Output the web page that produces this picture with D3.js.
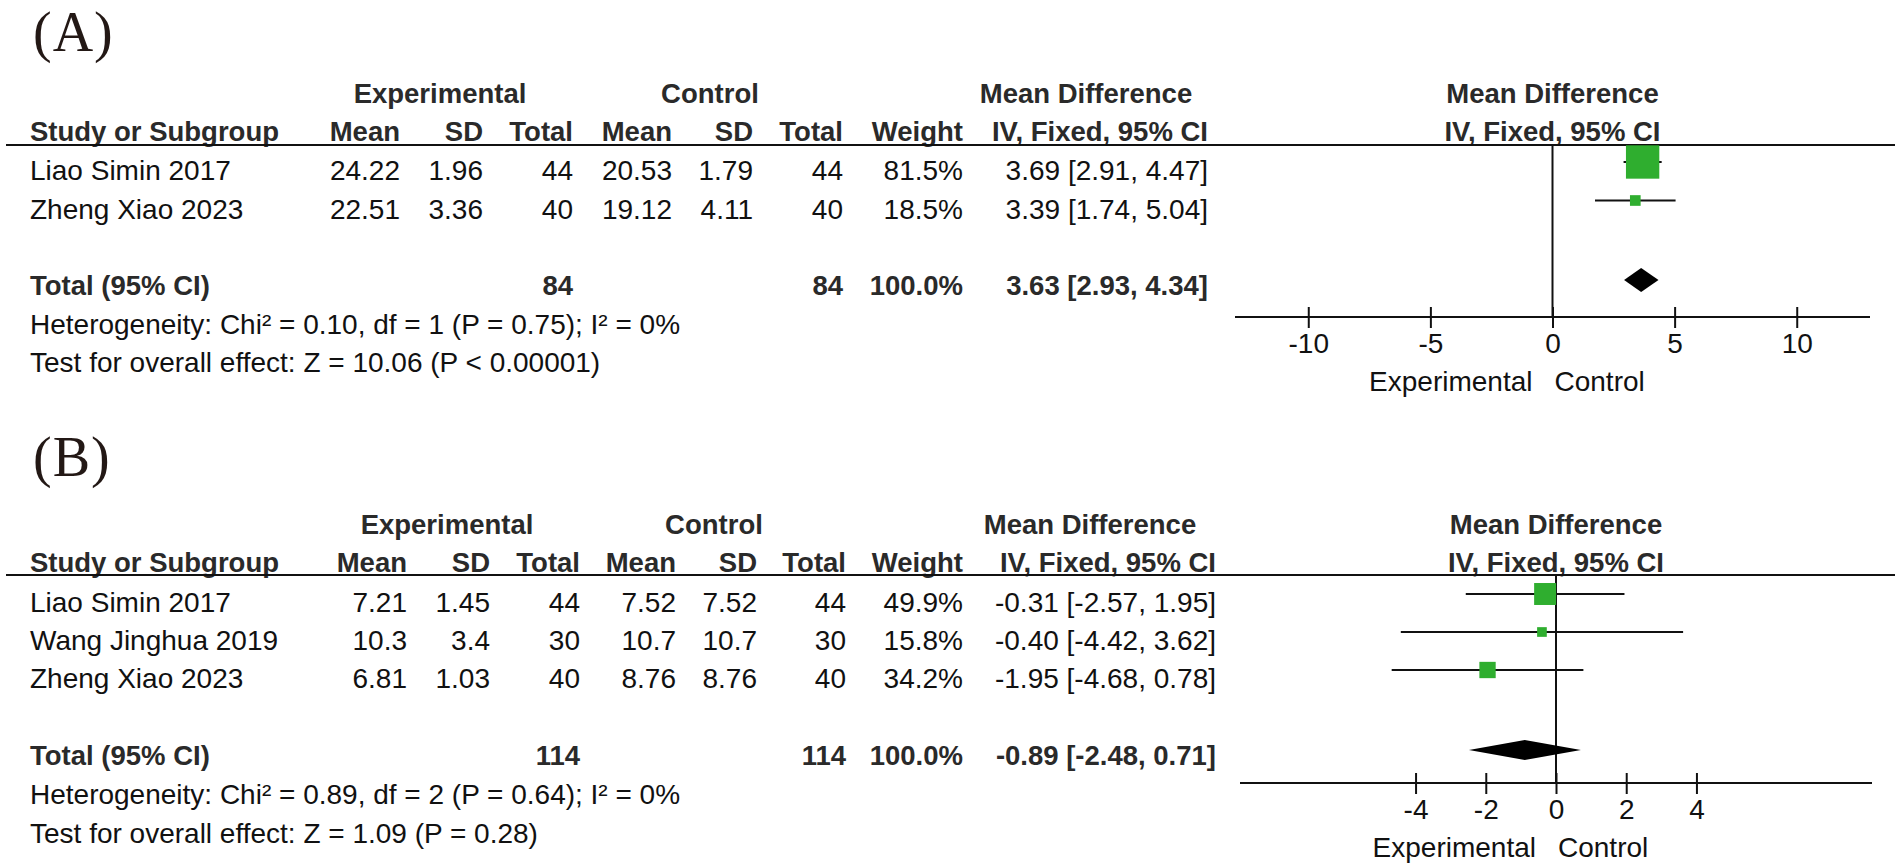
<!DOCTYPE html>
<html>
<head>
<meta charset="utf-8">
<script src="https://cdnjs.cloudflare.com/ajax/libs/d3/7.8.5/d3.min.js"></script>
<style>
  body { margin: 0; background: #fff; }
  svg { display: block; }
  text { font-family: "Liberation Sans", Arial, sans-serif; }
</style>
</head>
<body>
<svg id="chart" width="1902" height="866"></svg>
<script>
// ---- panel A data
let studiesA = ["Liao Simin 2017", "Zheng Xiao 2023"]
let expMeanA = [24.22, 22.51]
let expSdA = [1.96, 3.36]
let expNA = [44, 40]
let ctrlMeanA = [20.53, 19.12]
let ctrlSdA = [1.79, 4.11]
let ctrlNA = [44, 40]
let weightA = [81.5, 18.5]
let mdA = [3.69, 3.39]
let loA = [2.91, 1.74]
let hiA = [4.47, 5.04]
let totalA = [84, 84, 100.0, 3.63, 2.93, 4.34]   // exp n, ctrl n, weight, md, lo, hi
let hetA = "Heterogeneity: Chi² = 0.10, df = 1 (P = 0.75); I² = 0%"
let testA = "Test for overall effect: Z = 10.06 (P < 0.00001)"
let ticksA = [-10, -5, 0, 5, 10]

// ---- panel B data
let studiesB = ["Liao Simin 2017", "Wang Jinghua 2019", "Zheng Xiao 2023"]
let expMeanB = [7.21, 10.3, 6.81]
let expSdB = [1.45, 3.4, 1.03]
let expNB = [44, 30, 40]
let ctrlMeanB = [7.52, 10.7, 8.76]
let ctrlSdB = [7.52, 10.7, 8.76]
let ctrlNB = [44, 30, 40]
let weightB = [49.9, 15.8, 34.2]
let mdB = [-0.31, -0.40, -1.95]
let loB = [-2.57, -4.42, -4.68]
let hiB = [1.95, 3.62, 0.78]
let totalB = [114, 114, 100.0, -0.89, -2.48, 0.71]
let hetB = "Heterogeneity: Chi² = 0.89, df = 2 (P = 0.64); I² = 0%"
let testB = "Test for overall effect: Z = 1.09 (P = 0.28)"
let ticksB = [-4, -2, 0, 2, 4]

let headers = ["Mean", "SD", "Total", "Mean", "SD", "Total", "Weight", "IV, Fixed, 95% CI"]

let svg = d3.select('#chart')
let squareSize = d3.scaleLinear().domain([0, 100]).range([4, 40])
let ci = (m, l, h) => m.toFixed(2) + " [" + l.toFixed(2) + ", " + h.toFixed(2) + "]"

let drawPanel = (p, d) => {
    let g = svg.append('g')

    let txt = (x, y, s, anchor, bold) => g.append('text')
        .attr('x', x).attr('y', y).attr('dy', '0.36em')
        .attr('text-anchor', anchor)
        .style('font-size', bold ? '27.5px' : '28px')
        .style('font-weight', bold ? 'bold' : 'normal')
        .attr('fill', bold ? '#2a2a2a' : '#111')
        .text(s)

    // panel letter
    g.append('text')
        .attr('x', 33).attr('y', p.labelY)
        .style('font-family', '"Liberation Serif", "Times New Roman", serif')
        .style('font-size', '56px')
        .style('letter-spacing', '1px')
        .attr('fill', '#231815')
        .text(p.label)

    let x = d3.scaleLinear().domain(p.domain).range(p.range)
    let y = d3.scaleLinear().domain([0, 1]).range([p.row0, p.row0 + p.rowStep])
    let plotC = (p.range[0] + p.range[1]) / 2

    // group headers
    txt(p.grp[0], p.h1, 'Experimental', 'middle', true)
    txt(p.grp[1], p.h1, 'Control', 'middle', true)
    txt(p.grp[2], p.h1, 'Mean Difference', 'middle', true)
    txt(plotC, p.h1, 'Mean Difference', 'middle', true)

    // column headers
    txt(30, p.h2, 'Study or Subgroup', 'start', true)
    headers.forEach((h, i) => txt(p.cols[i], p.h2, h, 'end', true))
    txt(plotC, p.h2, 'IV, Fixed, 95% CI', 'middle', true)

    g.append('line')
        .attr('x1', 6).attr('x2', 1895)
        .attr('y1', p.lineY).attr('y2', p.lineY)
        .attr('stroke', '#111').attr('stroke-width', 2)

    // study rows
    d.studies.forEach((s, i) => {
        let yy = y(i)
        txt(30, yy, s, 'start', false)
        let vals = [d.expMean[i], d.expSd[i], d.expN[i], d.ctrlMean[i], d.ctrlSd[i], d.ctrlN[i],
                    d.weight[i].toFixed(1) + '%', ci(d.md[i], d.lo[i], d.hi[i])]
        vals.forEach((v, j) => txt(p.cols[j], yy, String(v), 'end', false))
    })

    // total row
    let t = d.total
    txt(30, p.totalY, 'Total (95% CI)', 'start', true)
    txt(p.cols[2], p.totalY, String(t[0]), 'end', true)
    txt(p.cols[5], p.totalY, String(t[1]), 'end', true)
    txt(p.cols[6], p.totalY, t[2].toFixed(1) + '%', 'end', true)
    txt(p.cols[7], p.totalY, ci(t[3], t[4], t[5]), 'end', true)

    txt(30, p.hetY, d.het, 'start', false)
    txt(30, p.testY, d.test, 'start', false)

    // zero line
    g.append('line')
        .attr('x1', x(0)).attr('x2', x(0))
        .attr('y1', p.lineY).attr('y2', p.axisY)
        .attr('stroke', '#111').attr('stroke-width', 2)

    // confidence intervals + squares
    g.selectAll('.ci').data(d.studies).enter().append('line')
        .attr('class', 'ci')
        .attr('x1', (s, i) => x(d.lo[i])).attr('x2', (s, i) => x(d.hi[i]))
        .attr('y1', (s, i) => y(i) - 8).attr('y2', (s, i) => y(i) - 8)
        .attr('stroke', '#111').attr('stroke-width', 2)

    g.selectAll('.sq').data(d.studies).enter().append('rect')
        .attr('class', 'sq')
        .attr('x', (s, i) => x(d.md[i]) - squareSize(d.weight[i]) / 2)
        .attr('y', (s, i) => y(i) - 8 - squareSize(d.weight[i]) / 2)
        .attr('width', (s, i) => squareSize(d.weight[i]))
        .attr('height', (s, i) => squareSize(d.weight[i]))
        .attr('fill', '#2fae2f')

    // pooled diamond
    let dy = p.totalY - 5
    g.append('path')
        .attr('d', 'M' + x(t[4]) + ',' + dy + 'L' + x(t[3]) + ',' + (dy - p.dh) +
                   'L' + x(t[5]) + ',' + dy + 'L' + x(t[3]) + ',' + (dy + p.dh) + 'Z')
        .attr('fill', '#000')

    // axis
    g.append('line')
        .attr('x1', p.range[0]).attr('x2', p.range[1])
        .attr('y1', p.axisY).attr('y2', p.axisY)
        .attr('stroke', '#111').attr('stroke-width', 2)

    let axis = d3.axisBottom(x)
        .tickValues(d.ticks)
        .tickSizeInner(21).tickSizeOuter(0).tickPadding(5)
        .tickFormat(v => String(v))
    let ax = g.append('g')
        .attr('transform', 'translate(0,' + (p.axisY - 10) + ')')
        .call(axis)
    ax.select('.domain').remove()
    ax.selectAll('.tick line').attr('stroke', '#111').attr('stroke-width', 2)
    ax.selectAll('.tick text').style('font-size', '28px').attr('fill', '#111')

    txt(x(0) - 20, p.ecY, 'Experimental', 'end', false)
    txt(x(0) + 2, p.ecY, 'Control', 'start', false)
}

drawPanel({
    label: '(A)', labelY: 51,
    h1: 93, h2: 131, lineY: 145, row0: 170, rowStep: 38.5,
    totalY: 285, hetY: 324, testY: 362, axisY: 317, ecY: 381,
    cols: [400, 483, 573, 672, 753, 843, 963, 1208],
    grp: [440, 710, 1086],
    domain: [-13, 13], range: [1235, 1870], dh: 12
}, {
    studies: studiesA, expMean: expMeanA, expSd: expSdA, expN: expNA,
    ctrlMean: ctrlMeanA, ctrlSd: ctrlSdA, ctrlN: ctrlNA, weight: weightA,
    md: mdA, lo: loA, hi: hiA, total: totalA, het: hetA, test: testA, ticks: ticksA
})

drawPanel({
    label: '(B)', labelY: 476,
    h1: 524, h2: 562, lineY: 575, row0: 602, rowStep: 38,
    totalY: 755, hetY: 794, testY: 833, axisY: 783, ecY: 847,
    cols: [407, 490, 580, 676, 757, 846, 963, 1216],
    grp: [447, 714, 1090],
    domain: [-9, 9], range: [1240, 1872], dh: 10
}, {
    studies: studiesB, expMean: expMeanB, expSd: expSdB, expN: expNB,
    ctrlMean: ctrlMeanB, ctrlSd: ctrlSdB, ctrlN: ctrlNB, weight: weightB,
    md: mdB, lo: loB, hi: hiB, total: totalB, het: hetB, test: testB, ticks: ticksB
})
</script>
</body>
</html>
